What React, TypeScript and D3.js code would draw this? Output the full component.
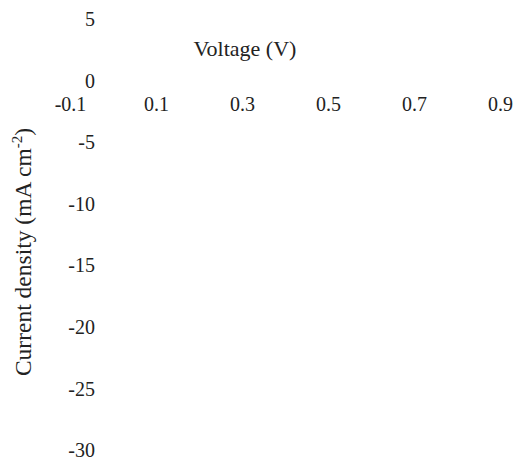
import React, { useRef, useEffect } from "react";
import { scaleLinear, axisBottom, axisLeft, select } from "d3";

// Empty J-V plot: only tick labels and axis titles are drawn

const width = 515,
  height = 463,
  textColor = "#222",
  fontFamily = "Liberation Serif, Times New Roman, Times, serif";

const voltageTicks = [-0.1, 0.1, 0.3, 0.5, 0.7, 0.9];
const currentTicks = [5, 0, -5, -10, -15, -20, -25, -30];
const xTitle = "Voltage (V)";
const yTitle = "Current density (mA cm";

export default function App() {
  const svgRef = useRef<SVGSVGElement>(null);

  useEffect(() => {
    const svg = select(svgRef.current);
    svg.selectAll("*").remove();

    const xScale = scaleLinear().domain([-0.1, 0.9]).range([70, 500]);
    const yScale = scaleLinear().domain([-30, 5]).range([450.5, 19]);

    // y tick labels, right aligned at x=95
    const gy = svg
      .append("g")
      .attr("transform", "translate(95,0)")
      .call(
        axisLeft(yScale)
          .tickValues(currentTicks)
          .tickSize(0)
          .tickPadding(0)
          .tickFormat((d) => String(d))
      );

    // x tick labels, sitting just under the 0 line
    const gx = svg
      .append("g")
      .attr("transform", "translate(0,97)")
      .call(
        axisBottom(xScale)
          .tickValues(voltageTicks)
          .tickSize(0)
          .tickPadding(0)
          .tickFormat((d) => String(d))
      );

    [gx, gy].forEach((g) => {
      g.select(".domain").remove();
      g.attr("font-family", fontFamily).attr("font-size", 20);
      g.selectAll("text").attr("fill", textColor);
    });

    svg
      .append("text")
      .attr("x", 245)
      .attr("y", 56)
      .attr("text-anchor", "middle")
      .attr("fill", textColor)
      .attr("font-family", fontFamily)
      .attr("font-size", 22)
      .text(xTitle);

    const yt = svg
      .append("text")
      .attr("transform", "translate(31,252) rotate(-90)")
      .attr("text-anchor", "middle")
      .attr("fill", textColor)
      .attr("font-family", fontFamily)
      .attr("font-size", 23.5);
    yt.append("tspan").text(yTitle);
    yt.append("tspan").attr("dy", -9).attr("font-size", 15).text("-2");
    yt.append("tspan").attr("dy", 9).text(")");

    return () => {
      svg.selectAll("*").remove();
    };
  }, []);

  return (
    <svg
      ref={svgRef}
      width={width}
      height={height}
      style={{ position: "absolute", left: 0, top: 0, background: "#fff" }}
    ></svg>
  );
}
